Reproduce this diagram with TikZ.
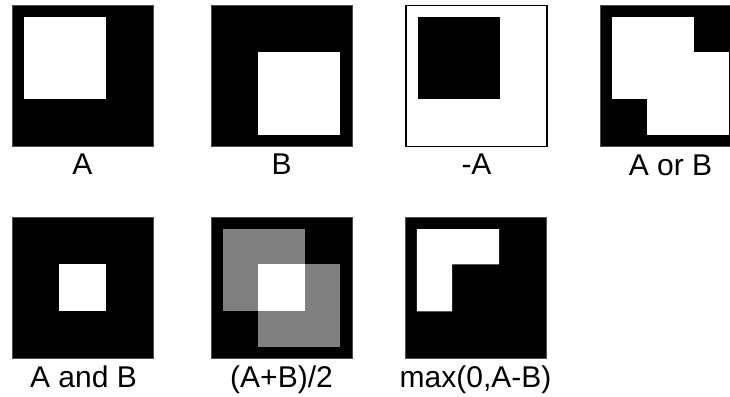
\documentclass[tikz,border=0pt]{standalone}
\usepackage{fontspec}
\setmainfont{Liberation Sans}
\begin{document}
\begin{tikzpicture}[x=0.75pt,y=-0.75pt,
  panel/.style={minimum size=105.75pt,inner sep=0pt,outer sep=0pt},
  blk/.style={panel,fill=black,draw=black!70,line width=0.4pt},
  wht/.style={panel,fill=white,draw=black,line width=0.9pt},
  lbl/.style={anchor=base,inner sep=0pt,font=\fontsize{22.5}{27}\selectfont},
  gridunits/.style={x=8.8125pt,y=-8.8125pt},
  half/.style={fill=black!50}]
\useasboundingbox (0,0) rectangle (730,396);
\clip (0,0) rectangle (730,396);
% row 1
\node[blk] (pA)  at (82.5,75.75) {};
\node[blk] (pB)  at (281.5,75.75) {};
\node[wht] (pNA) at (476.5,75.75) {};
\node[blk] (pOr) at (670.5,75.75) {};
% row 2
\node[blk] (pAnd) at (82.5,287.75) {};
\node[blk] (pAvg) at (281.5,287.75) {};
\node[blk] (pMax) at (475.5,287.75) {};
% A
\begin{scope}[shift={(pA.north west)},gridunits]
  \fill[white] (1,1) rectangle (8,8);
\end{scope}
% B
\begin{scope}[shift={(pB.north west)},gridunits]
  \fill[white] (4,4) rectangle (11,11);
\end{scope}
% -A
\begin{scope}[shift={(pNA.north west)},gridunits]
  \fill[black] (1,1) rectangle (8,8);
\end{scope}
% A or B
\begin{scope}[shift={(pOr.north west)},gridunits]
  \fill[white] (1,1) rectangle (8,8);
  \fill[white] (4,4) rectangle (11,11);
\end{scope}
% A and B
\begin{scope}[shift={(pAnd.north west)},gridunits]
  \fill[white] (4,4) rectangle (8,8);
\end{scope}
% (A+B)/2
\begin{scope}[shift={(pAvg.north west)},gridunits]
  \fill[half] (1,1) rectangle (8,8);
  \fill[half] (4,4) rectangle (11,11);
  \fill[white] (4,4) rectangle (8,8);
\end{scope}
% max(0,A-B)
\begin{scope}[shift={(pMax.north west)},gridunits]
  \fill[white] (1,1) -- (8,1) -- (8,4) -- (4,4) -- (4,8) -- (1,8) -- cycle;
\end{scope}
% labels
\node[lbl] (lA)   at (82.5,174) {A};
\node[lbl] (lB)   at (281.5,174) {B};
\node[lbl] (lNA)  at (476.5,174) {-A};
\node[lbl] (lOr)  at (670.5,175) {A or B};
\node[lbl] (lAnd) at (83.5,387) {A and B};
\node[lbl] (lAvg) at (281.5,387) {(A+B)/2};
\node[lbl] (lMax) at (475.5,387) {max(0,A-B)};
\end{tikzpicture}
\end{document}
